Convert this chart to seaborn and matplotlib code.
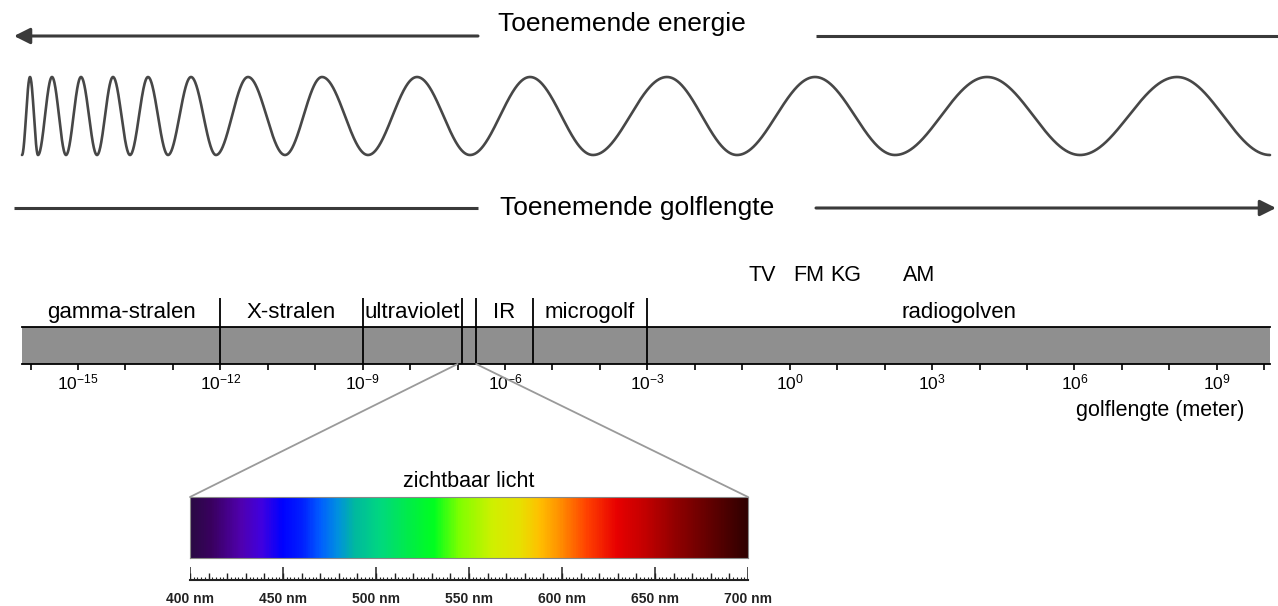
import numpy as np
import matplotlib
matplotlib.use("Agg")
import matplotlib.pyplot as plt
import seaborn as sns
from matplotlib.colors import LinearSegmentedColormap
from matplotlib.patches import ConnectionPatch

# --- wave: x positions (px) of successive extremes, first one is a trough ---
wave_extrema = [22, 30, 38, 52, 66, 81, 97, 113, 130, 148, 168, 191, 216, 248,
                285, 322, 368, 417, 470, 530, 593, 667, 737, 815, 895, 987,
                1080, 1177, 1270]

# --- spectrum bar, x in log10(golflengte / m) ---
bar_range = [-16.18, 10.12]
band_edges = [-16.18, -12, -9, -6.907, -6.612, -5.417, -3, 10.12]
band_names = ["gamma-stralen", "X-stralen", "ultraviolet", "", "IR", "microgolf", "radiogolven"]
visible_band = [-6.907, -6.612]
zoom_from = [-7.0, -6.61]
radio_names = ["TV", "FM", "KG", "AM"]
radio_pos = [-0.57, 0.40, 1.18, 2.73]
exp_ticks = list(range(-16, 11))
exp_labels = [-15, -12, -9, -6, -3, 0, 3, 6, 9]

# --- visible light ---
nm_range = [400, 700]
nm_labels = [400, 450, 500, 550, 600, 650, 700]
spec_nm = [400, 411, 427, 438, 449, 460, 470, 479, 488, 502, 520, 531, 545,
           563, 578, 588, 599, 614, 630, 646, 662, 681, 700]
spec_col = ["#2a0a45", "#3a0060", "#5000b0", "#4000e0", "#0000ff", "#0020ff",
            "#0060ff", "#0090e0", "#00b8a0", "#00d880", "#00f040", "#00ff20",
            "#80ff00", "#d0f000", "#e8e000", "#ffc000", "#ff9000", "#ff4000",
            "#e80000", "#c00000", "#900000", "#600000", "#300000"]

sns.set_theme(style="white")
plt.rcParams["font.family"] = ["Liberation Sans", "DejaVu Sans"]
plt.rcParams["mathtext.default"] = "regular"

W, H = 1278, 606
fig = plt.figure(figsize=(W / 100, H / 100), dpi=100)


def px_axes(x0, y0, x1, y1):
    ax = fig.add_axes([x0 / W, 1 - y1 / H, (x1 - x0) / W, (y1 - y0) / H])
    ax.set_facecolor("none")
    return ax


pos = [(n - nm_range[0]) / (nm_range[1] - nm_range[0]) for n in spec_nm]
spec_cmap = LinearSegmentedColormap.from_list("spec", list(zip(pos, spec_col)))
nm_grid = np.linspace(nm_range[0], nm_range[1], 600)[None, :]

# --- arrows + text on top ---
ax_top = px_axes(0, 0, W, 240)
ax_top.set_xlim(0, W)
ax_top.set_ylim(240, 0)
ax_top.axis("off")
akw = dict(arrowstyle="-|>,head_length=0.6,head_width=0.3", color="#3a3a3a", lw=2.2,
           mutation_scale=16, shrinkA=0, shrinkB=0)
ax_top.annotate("", xy=(14, 36), xytext=(478, 36), arrowprops=akw)
ax_top.plot([816, W], [36, 36], color="#3a3a3a", lw=2.2, solid_capstyle="butt")
ax_top.text(622, 31, "Toenemende energie", ha="center", va="baseline", fontsize=19, color="black")
ax_top.plot([14, 478], [208, 208], color="#3a3a3a", lw=2.2, solid_capstyle="butt")
ax_top.annotate("", xy=(1276, 208), xytext=(816, 208), arrowprops=akw)
ax_top.text(637, 215, "Toenemende golflengte", ha="center", va="baseline", fontsize=19, color="black")

# --- the wave ---
ax_wave = px_axes(0, 77, W, 155)
xe = np.array(wave_extrema, dtype=float)
xs = np.linspace(xe[0], xe[-1], 4000)
ys = -np.cos(np.interp(xs, xe, np.pi * np.arange(len(xe))))
sns.lineplot(x=xs, y=ys, ax=ax_wave, color="#474747", lw=1.9, estimator=None, sort=False)
ax_wave.set_xlim(0, W)
ax_wave.set_ylim(-1, 1)
ax_wave.axis("off")
for l in ax_wave.lines:
    l.set_clip_on(False)

# --- spectrum bar ---
ax_bar = px_axes(0, 327, W, 364)
ax_bar.fill_between(bar_range, 0, 1, color="#8f8f8f", lw=0)
ax_bar.imshow(nm_grid, cmap=spec_cmap, extent=(visible_band[0], visible_band[1], 0, 1),
              aspect="auto", vmin=nm_range[0], vmax=nm_range[1])
ax_bar.vlines(band_edges[1:-1], 0, 1.78, color="black", lw=1.3, clip_on=False)
ax_bar.set_xlim(-16.644, 10.29)
ax_bar.set_ylim(0, 1)
for s in ["left", "right"]:
    ax_bar.spines[s].set_visible(False)
for s in ["top", "bottom"]:
    ax_bar.spines[s].set_visible(True)
    ax_bar.spines[s].set_color("black")
    ax_bar.spines[s].set_linewidth(1.3)
    ax_bar.spines[s].set_bounds(*bar_range)
ax_bar.set_yticks([])
ax_bar.set_xticks(exp_ticks)
ax_bar.set_xticklabels([f"$10^{{{e}}}$" if e in exp_labels else "" for e in exp_ticks])
ax_bar.tick_params(axis="x", bottom=True, direction="out", length=4.5, width=1.2,
                   color="black", pad=1.5, labelsize=12.5, labelcolor="black")

mids = [(a + b) / 2 for a, b in zip(band_edges[:-1], band_edges[1:])]
for name, m in zip(band_names, mids):
    if name:
        ax_bar.text(m, 1.243, name, ha="center", va="baseline", fontsize=16, color="black")
for name, p in zip(radio_names, radio_pos):
    ax_bar.text(p, 2.24, name, ha="center", va="baseline", fontsize=15.5, color="black")
ax_bar.text(9.573, -1.405, "golflengte (meter)", ha="right", va="baseline", fontsize=15.5, color="black")

# --- visible light close-up ---
ax_spec = px_axes(190, 497, 748, 558)
ax_spec.imshow(nm_grid, cmap=spec_cmap, extent=(nm_range[0], nm_range[1], 0, 1),
               aspect="auto", vmin=nm_range[0], vmax=nm_range[1], interpolation="bilinear")
ax_spec.set_xlim(*nm_range)
ax_spec.set_ylim(0, 1)
ax_spec.set_xticks([])
ax_spec.set_yticks([])
for s in ax_spec.spines.values():
    s.set_visible(True)
    s.set_color("#888888")
    s.set_linewidth(0.8)
ax_spec.text(550, 1.16, "zichtbaar licht", ha="center", va="baseline", fontsize=15.5, color="black")

for e, n in zip(zoom_from, nm_range):
    con = ConnectionPatch(xyA=(e, 0), coordsA=ax_bar.transData, xyB=(n, 1), coordsB=ax_spec.transData,
                          color="#9a9a9a", lw=1.3)
    fig.add_artist(con)

# --- nm ruler ---
ax_rul = px_axes(190, 556, 748, 580)
ax_rul.set_xlim(*nm_range)
ax_rul.set_ylim(0, 1)
ax_rul.vlines(np.arange(400, 701, 2), 0, 0.14, color="#222222", lw=0.8)
ax_rul.vlines(np.arange(400, 701, 10), 0, 0.3, color="#222222", lw=1.0)
ax_rul.vlines(nm_labels, 0, 0.55, color="#222222", lw=1.1)
for s in ["left", "right", "top"]:
    ax_rul.spines[s].set_visible(False)
ax_rul.spines["bottom"].set_visible(True)
ax_rul.spines["bottom"].set_color("#222222")
ax_rul.spines["bottom"].set_linewidth(1.5)
ax_rul.set_yticks([])
ax_rul.set_xticks(nm_labels)
ax_rul.set_xticklabels([f"{n} nm" for n in nm_labels])
ax_rul.tick_params(axis="x", bottom=True, length=0, pad=8.5, labelsize=10)
for t in ax_rul.get_xticklabels():
    t.set_fontweight("bold")
    t.set_color("#222222")

fig.savefig("out.png", dpi=100)
